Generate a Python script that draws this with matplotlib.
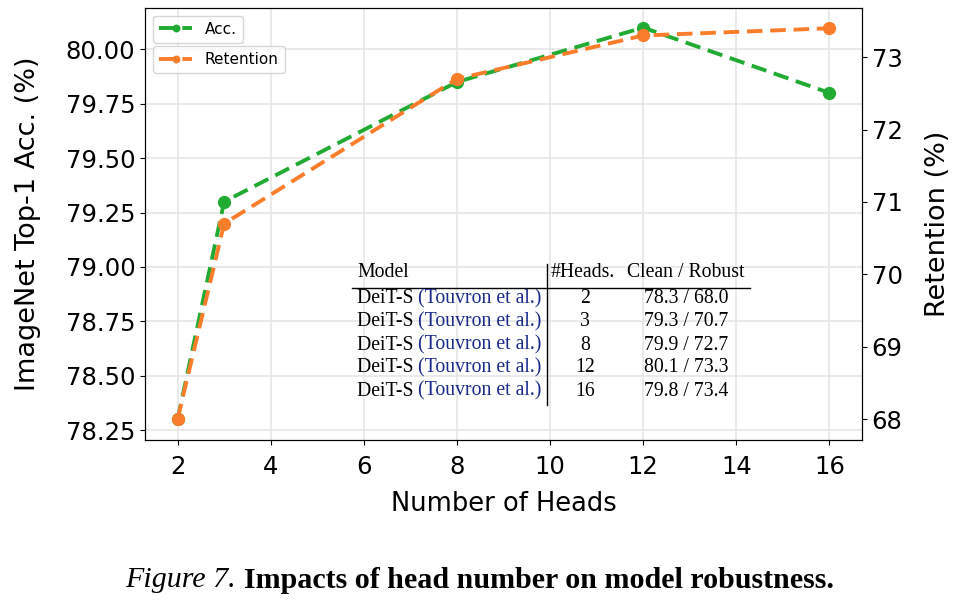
import matplotlib.pyplot as plt
import numpy as np

# head number vs. accuracy / retention
heads = [2, 3, 8, 12, 16]
acc = [78.3, 79.3, 79.85, 80.1, 79.8]
retention = [68.0, 70.7, 72.7, 73.3, 73.4]

# table contents
models = ["DeiT-S"] * 5
cite = "(Touvron et al.)"
clean = [78.3, 79.3, 79.9, 80.1, 79.8]
robust = [68.0, 70.7, 72.7, 73.3, 73.4]

green = '#22ab33'
orange = '#fa7d2c'

W, H = 961, 605
fig = plt.figure(figsize=(9.61, 6.05), dpi=100)
ax = fig.add_axes([145/W, 1-440/H, (862-145)/W, (440-8)/H])
ax2 = ax.twinx()

ax.plot(heads, acc, '--', color=green, lw=2.8, marker='o', ms=8.5, label='Acc.', dashes=(4, 2))
ax2.plot(heads, retention, '--', color=orange, lw=2.8, marker='o', ms=8.5, label='Retention', dashes=(4, 2))

ax.set_xlim(1.3, 16.7)
ax.set_ylim(78.205, 80.19)
ax2.set_ylim(67.71, 73.68)
ax.set_xticks([2, 4, 6, 8, 10, 12, 14, 16])
ax.set_yticks(np.arange(78.25, 80.01, 0.25))
ax.yaxis.set_major_formatter(plt.FormatStrFormatter('%.2f'))
ax2.set_yticks([68, 69, 70, 71, 72, 73])
ax.grid(True, color='#e6e6e6', lw=1.2)
ax.set_axisbelow(True)

for a in (ax, ax2):
    a.tick_params(labelsize=17.5)
ax.tick_params(axis='x', pad=7)
ax.set_xlabel('Number of Heads', fontsize=18.5, labelpad=9)
ax.set_ylabel('ImageNet Top-1 Acc. (%)', fontsize=19.5, labelpad=18)
ax2.set_ylabel('Retention (%)', fontsize=19.5, labelpad=16)

leg1 = ax.legend(loc='upper left', fontsize=11, bbox_to_anchor=(0.0, 1.0),
                 handlelength=2.2, markerscale=0.55)
leg2 = ax2.legend(loc='upper left', fontsize=11, bbox_to_anchor=(0.0, 0.93),
                  handlelength=2.2, markerscale=0.55)
leg1.set_zorder(20)

# inset table drawn as text
def fx(px):
    return px / W
def fy(py):
    return 1 - py / H

tfont = dict(family='Liberation Serif', fontsize=14.2, va='center')
fig.text(fx(357), fy(273), 'Model', ha='left', **tfont)
fig.text(fx(551), fy(273), '#Heads.', ha='left', **tfont)
fig.text(fx(627), fy(273), 'Clean / Robust', ha='left', **tfont)
fig.add_artist(plt.Line2D([fx(352), fx(750)], [fy(288), fy(288)], color='black', lw=1.0))
fig.add_artist(plt.Line2D([fx(547), fx(547)], [fy(264), fy(405)], color='black', lw=1.0))
row_y = [299, 322, 345, 368, 391]
fig.canvas.draw()
for i in range(len(heads)):
    y = fy(row_y[i])
    m = fig.text(fx(357), y, models[i] + ' ', ha='left', **tfont)
    mb = m.get_window_extent()
    fig.text(mb.x1 / W, y, cite, ha='left', color='#1a2a8a', **tfont)
    fig.text(fx(585), y, str(heads[i]), ha='center', **tfont)
    fig.text(fx(686), y, '%.1f / %.1f' % (clean[i], robust[i]), ha='center', **tfont)

# caption
cap = fig.text(fx(125), fy(580), 'Figure 7.', family='Liberation Serif', style='italic',
               fontsize=21.6, ha='left', va='center')
fig.canvas.draw()
bb = cap.get_window_extent()
fig.text((bb.x1 + 8) / W, fy(580), 'Impacts of head number on model robustness.',
         family='Liberation Serif', weight='bold', fontsize=21.6, ha='left', va='center')

fig.savefig('out.png', dpi=100)
